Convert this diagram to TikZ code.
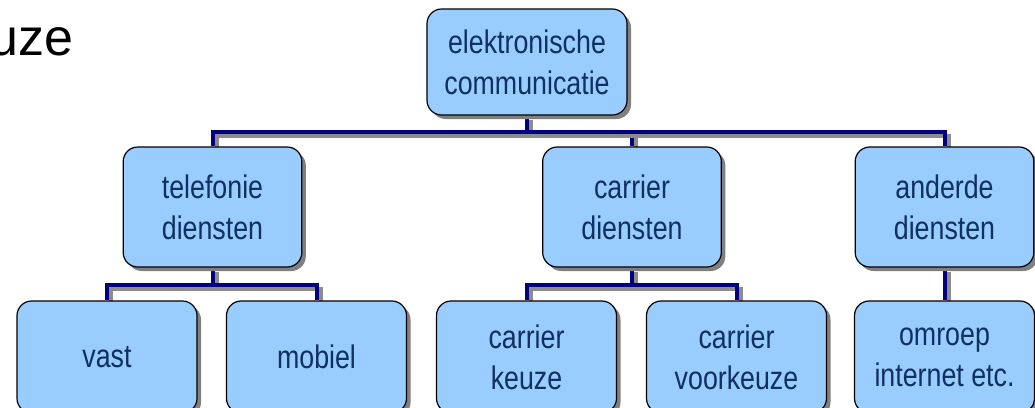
\documentclass[tikz,border=0pt]{standalone}
\usepackage{fontspec}
\setmainfont{Liberation Sans}
\newfontfamily\boxfont{Liberation Sans}[FakeStretch=0.82]
\usetikzlibrary{shadows,backgrounds}
\definecolor{boxblue}{RGB}{153,204,255}
\definecolor{linenavy}{RGB}{0,0,128}
\definecolor{txtnavy}{RGB}{16,48,96}
\tikzset{
  dienst/.style={draw=black,line width=0.9pt,fill=boxblue,rounded corners=11pt,
    minimum width=134pt,minimum height=90pt,inner sep=0pt,align=center,
    text=txtnavy,font=\boxfont\fontsize{24.5}{30.75}\selectfont,
    drop shadow={shadow xshift=3pt,shadow yshift=-3pt,fill=black!50,opacity=1}},
  blad/.style={dienst,minimum width=135pt,minimum height=84pt},
  verbind/.style={draw=linenavy,line width=3pt,
    preaction={draw=black!45,line width=3pt,transform canvas={shift={(3pt,-3pt)}}}}
}
\begin{document}
\begin{tikzpicture}[x=0.75pt,y=-0.75pt]
  \useasboundingbox (0,0) rectangle (1035,407);
  \node[anchor=base east,inner sep=0pt,font=\fontsize{39}{45}\selectfont] (titel) at (74,55) {uze};
  % bovenste laag
  \node[dienst,minimum width=150pt,minimum height=79.5pt] (ec) at (527,62) {elektronische\\communicatie};
  % tweede laag
  \node[dienst] (tel) at (212.5,207) {telefonie\\diensten};
  \node[dienst] (car) at (632,207) {carrier\\diensten};
  \node[dienst] (and) at (944.5,207) {anderde\\diensten};
  % onderste laag
  \node[blad] (vast) at (107,357) {vast};
  \node[blad] (mob) at (316.5,357) {mobiel};
  \node[blad] (ck) at (526.5,357) {carrier\\keuze};
  \node[blad] (cvk) at (736.5,357) {carrier\\voorkeuze};
  \node[blad] (omr) at (944.5,357) {omroep\\internet etc.};
  \begin{pgfonlayer}{background}
    \foreach \k in {tel,car,and}{
      \draw[verbind] (ec.south) -- ++(0,16) -| (\k.north);
    }
    \foreach \k in {vast,mob}{
      \draw[verbind] (tel.south) -- ++(0,17) -| (\k.north);
    }
    \foreach \k in {ck,cvk}{
      \draw[verbind] (car.south) -- ++(0,17) -| (\k.north);
    }
    \draw[verbind] (and.south) -- (omr.north);
  \end{pgfonlayer}
\end{tikzpicture}
\end{document}
